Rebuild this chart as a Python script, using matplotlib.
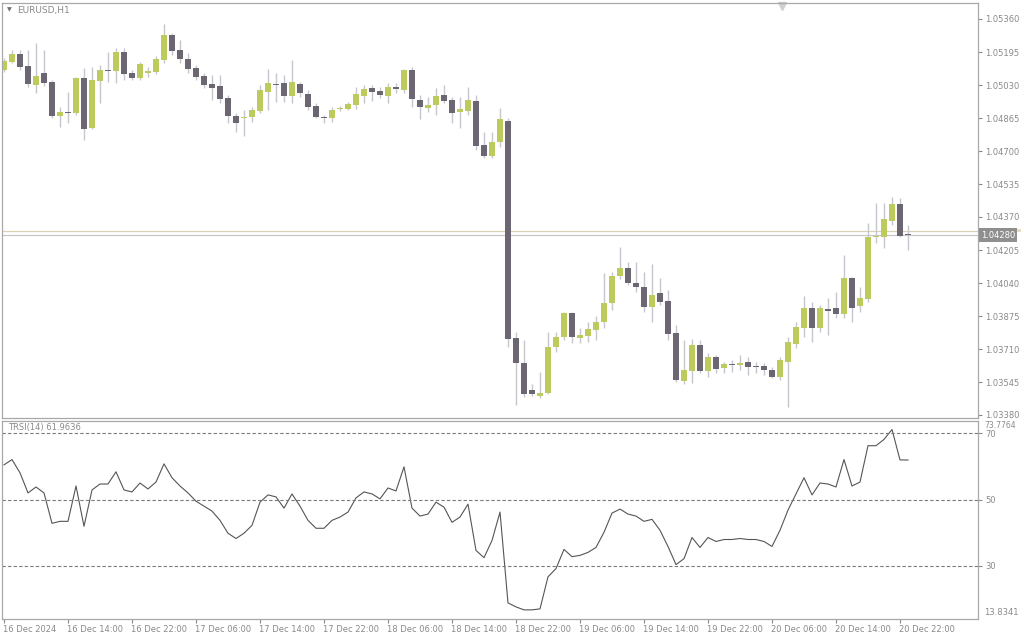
import numpy as np
import pandas as pd
import matplotlib
matplotlib.use("Agg")
import matplotlib.pyplot as plt
import matplotlib.transforms as mtransforms
from matplotlib.patches import Rectangle

# EURUSD H1 candles
opens = [1.05105, 1.05145, 1.05185, 1.05125, 1.05030, 1.05090, 1.05045, 1.04875, 1.04895, 1.04890,
         1.05065, 1.04815, 1.05050, 1.05105, 1.05100, 1.05195, 1.05090, 1.05065, 1.05090, 1.05095,
         1.05155, 1.05280, 1.05205, 1.05160, 1.05115, 1.05075, 1.05035, 1.05025, 1.04965, 1.04875,
         1.04865, 1.04870, 1.04900, 1.04995, 1.05035, 1.05040, 1.04975, 1.05035, 1.04985, 1.04925,
         1.04870, 1.04865, 1.04910, 1.04910, 1.04930, 1.04975, 1.05015, 1.05000, 1.04975, 1.05020,
         1.05005, 1.05105, 1.04955, 1.04915, 1.04930, 1.04980, 1.04955, 1.04895, 1.04900, 1.04950,
         1.04730, 1.04675, 1.04745, 1.04850, 1.03765, 1.03640, 1.03505, 1.03475, 1.03490, 1.03720,
         1.03770, 1.03890, 1.03765, 1.03775, 1.03805, 1.03845, 1.03940, 1.04075, 1.04115, 1.04040,
         1.04020, 1.03920, 1.03990, 1.03950, 1.03790, 1.03550, 1.03600, 1.03730, 1.03600, 1.03670,
         1.03615, 1.03635, 1.03630, 1.03645, 1.03625, 1.03625, 1.03605, 1.03570, 1.03645, 1.03735,
         1.03815, 1.03915, 1.03815, 1.03910, 1.03915, 1.03885, 1.04065, 1.03925, 1.03960, 1.04270,
         1.04270, 1.04350, 1.04435, 1.04285]
highs = [1.05165, 1.05205, 1.05205, 1.05205, 1.05240, 1.05205, 1.05055, 1.04920, 1.04995, 1.05070,
         1.05115, 1.05120, 1.05130, 1.05195, 1.05215, 1.05215, 1.05105, 1.05145, 1.05120, 1.05175,
         1.05335, 1.05290, 1.05255, 1.05190, 1.05130, 1.05090, 1.05080, 1.05080, 1.04980, 1.04890,
         1.04905, 1.04920, 1.05030, 1.05110, 1.05090, 1.05080, 1.05155, 1.05045, 1.05005, 1.04940,
         1.04880, 1.04920, 1.04925, 1.04945, 1.05020, 1.05030, 1.05030, 1.05020, 1.05040, 1.05040,
         1.05110, 1.05120, 1.04980, 1.04970, 1.05015, 1.05030, 1.04970, 1.04970, 1.05020, 1.04980,
         1.04795, 1.04795, 1.04915, 1.04865, 1.03795, 1.03755, 1.03535, 1.03595, 1.03795, 1.03795,
         1.03895, 1.03895, 1.03815, 1.03845, 1.03875, 1.04090, 1.04095, 1.04220, 1.04145, 1.04145,
         1.04095, 1.04135, 1.04065, 1.04005, 1.03830, 1.03755, 1.03760, 1.03755, 1.03690, 1.03680,
         1.03645, 1.03655, 1.03680, 1.03670, 1.03645, 1.03640, 1.03620, 1.03670, 1.03770, 1.03845,
         1.03975, 1.03945, 1.03930, 1.03965, 1.03995, 1.04180, 1.04070, 1.04020, 1.04340, 1.04440,
         1.04440, 1.04470, 1.04465, 1.04330]
lows = [1.05095, 1.05140, 1.05105, 1.05020, 1.04990, 1.05025, 1.04865, 1.04820, 1.04840, 1.04880,
        1.04755, 1.04810, 1.04940, 1.05045, 1.05040, 1.05055, 1.05055, 1.05055, 1.05070, 1.05085,
        1.05140, 1.05180, 1.05140, 1.05090, 1.05055, 1.05015, 1.04955, 1.04940, 1.04840, 1.04795,
        1.04775, 1.04845, 1.04890, 1.04905, 1.04945, 1.04945, 1.04940, 1.04970, 1.04905, 1.04865,
        1.04840, 1.04845, 1.04900, 1.04905, 1.04910, 1.04940, 1.04950, 1.04965, 1.04940, 1.04990,
        1.04990, 1.04920, 1.04860, 1.04895, 1.04880, 1.04940, 1.04840, 1.04815, 1.04880, 1.04705,
        1.04665, 1.04665, 1.04720, 1.03720, 1.03430, 1.03470, 1.03475, 1.03465, 1.03485, 1.03695,
        1.03755, 1.03740, 1.03740, 1.03745, 1.03755, 1.03815, 1.03905, 1.04060, 1.04030, 1.03995,
        1.03895, 1.03845, 1.03930, 1.03755, 1.03545, 1.03535, 1.03540, 1.03590, 1.03570, 1.03590,
        1.03590, 1.03595, 1.03605, 1.03580, 1.03590, 1.03580, 1.03565, 1.03555, 1.03420, 1.03715,
        1.03770, 1.03745, 1.03795, 1.03780, 1.03865, 1.03865, 1.03845, 1.03895, 1.03945, 1.04240,
        1.04215, 1.04330, 1.04270, 1.04205]
closes = [1.05150, 1.05185, 1.05120, 1.05035, 1.05075, 1.05040, 1.04875, 1.04895, 1.04890, 1.05065,
          1.04810, 1.05055, 1.05105, 1.05100, 1.05195, 1.05085, 1.05065, 1.05135, 1.05100, 1.05160,
          1.05280, 1.05200, 1.05160, 1.05110, 1.05070, 1.05030, 1.05015, 1.04960, 1.04875, 1.04840,
          1.04870, 1.04905, 1.05005, 1.05040, 1.05030, 1.04975, 1.05045, 1.04990, 1.04920, 1.04870,
          1.04865, 1.04905, 1.04915, 1.04935, 1.04985, 1.05010, 1.04995, 1.04980, 1.05020, 1.05010,
          1.05105, 1.04960, 1.04920, 1.04930, 1.04975, 1.04950, 1.04890, 1.04910, 1.04955, 1.04725,
          1.04675, 1.04745, 1.04860, 1.03760, 1.03640, 1.03485, 1.03485, 1.03490, 1.03720, 1.03770,
          1.03890, 1.03770, 1.03780, 1.03810, 1.03845, 1.03940, 1.04075, 1.04115, 1.04040, 1.04020,
          1.03920, 1.03980, 1.03945, 1.03785, 1.03555, 1.03605, 1.03730, 1.03600, 1.03670, 1.03610,
          1.03635, 1.03630, 1.03640, 1.03620, 1.03620, 1.03605, 1.03570, 1.03655, 1.03745, 1.03820,
          1.03915, 1.03815, 1.03915, 1.03900, 1.03885, 1.04065, 1.03915, 1.03965, 1.04270, 1.04275,
          1.04360, 1.04435, 1.04275, 1.04280]

# TRSI(14) indicator values
trsi = [60.5, 62.1, 58.1, 52.0, 53.8, 52.0, 42.8, 43.4, 43.4, 54.1,
        41.9, 52.9, 54.7, 54.7, 58.4, 52.9, 52.3, 55.0, 53.2, 55.3,
        60.8, 56.6, 54.1, 52.0, 49.5, 48.0, 46.5, 43.7, 39.8, 38.2,
        39.8, 42.2, 49.2, 51.4, 50.8, 47.4, 51.7, 48.0, 43.7, 41.3,
        41.3, 43.7, 44.7, 46.2, 50.5, 52.3, 51.7, 50.2, 53.5, 52.6,
        59.9, 47.4, 45.0, 45.6, 49.2, 47.7, 43.1, 44.7, 48.6, 34.6,
        32.4, 37.6, 46.2, 18.7, 17.5, 16.6, 16.6, 16.9, 26.6, 29.1,
        34.9, 32.7, 33.1, 34.0, 35.5, 40.1, 45.9, 47.1, 45.6, 45.0,
        43.4, 44.0, 40.7, 35.8, 30.3, 32.1, 38.5, 35.5, 38.5, 37.3,
        37.9, 37.9, 38.2, 37.9, 37.9, 37.3, 35.8, 40.7, 46.8, 51.7,
        56.6, 51.4, 55.0, 54.7, 53.8, 62.1, 54.1, 55.3, 66.3, 66.3,
        68.2, 71.2, 62.0, 61.9636]

price_ticks = [1.05360, 1.05195, 1.05030, 1.04865, 1.04700, 1.04535, 1.04370,
               1.04205, 1.04040, 1.03875, 1.03710, 1.03545, 1.03380]
rsi_levels = [70, 50, 30]
rsi_min, rsi_max = 13.8341, 73.7764
bid, ask = 1.04280, 1.04298

times = pd.date_range("2024-12-16 06:00", periods=len(closes), freq="h")

UP = "#bccb5c"
DOWN = "#6c6672"
WICK = "#c6c6ce"
GREY = "#8a8a8a"
FRAME = "#a8a8a8"

W, H = 1024, 640
fig = plt.figure(figsize=(W / 100, H / 100), dpi=100)
fig.patch.set_facecolor("white")

def px_box(left, top, right, bottom):
    return [left / W, 1 - bottom / H, (right - left) / W, (bottom - top) / H]

ax = fig.add_axes(px_box(2, 3, 978, 418))
ax2 = fig.add_axes(px_box(2, 421, 978, 619), sharex=ax)

x = np.arange(len(closes))
o = np.array(opens)
c = np.array(closes)
up = c > o
body_lo = np.minimum(o, c)
body_h = np.maximum(np.abs(c - o), 0.00004)

ax.vlines(x, lows, highs, color=WICK, lw=1.0, zorder=1)
ax.bar(x, body_h, bottom=body_lo, width=0.78,
       color=np.where(up, UP, DOWN), linewidth=0, zorder=2)

# bid / ask lines
ax.axhline(ask, color="#d9d2b4", lw=0.9, zorder=0)
ax.axhline(bid, color="#c8c8c8", lw=0.9, zorder=0)

ax.set_xlim(-0.25, 121.75)
ax.set_ylim(1.03365, 1.05440)
ax.yaxis.tick_right()
ax.set_yticks(price_ticks)
ax.set_yticklabels([f"{p:.5f}" for p in price_ticks])
ax.tick_params(axis="y", colors=GREY, labelsize=6, length=3, width=0.8, pad=2)
ax.tick_params(axis="x", bottom=False, labelbottom=False)
for s in ax.spines.values():
    s.set_color(FRAME)
    s.set_linewidth(0.9)

# current price box, with the ask label strip peeking above it
trans = mtransforms.blended_transform_factory(ax.transAxes, ax.transData)
ax.add_patch(Rectangle((1.001, ask - 0.00002), 0.043, 0.00012, transform=trans,
                       facecolor="#e6dfc2", edgecolor="none", clip_on=False, zorder=3))
ax.text(1.003, bid, "1.04280", transform=trans, ha="left", va="center",
        fontsize=6, color="white", clip_on=False, zorder=4,
        bbox=dict(boxstyle="square,pad=0.25", facecolor="#8f8f8f", edgecolor="none"))

# chart shift marker
trans_top = mtransforms.blended_transform_factory(ax.transData, ax.transAxes)
ax.plot([97.25], [0.992], marker="v", markersize=6, color="#cfcfcf",
        transform=trans_top, clip_on=False)

fig.text(9 / W, 1 - 10 / H, "\u25BC", fontsize=4.5, color="#707070", ha="center", va="center")
fig.text(17 / W, 1 - 10 / H, "EURUSD,H1", fontsize=6.5, color=GREY, ha="left", va="center")

# indicator window
ax2.plot(x, trsi, color="#555555", lw=0.8)
for lvl in rsi_levels:
    ax2.axhline(lvl, color="#7a7a7a", lw=0.8, ls=(0, (3, 2)))
ax2.set_ylim(rsi_min, rsi_max)
ax2.yaxis.tick_right()
ax2.set_yticks(rsi_levels)
ax2.set_yticklabels([str(v) for v in rsi_levels])
ax2.tick_params(axis="y", colors=GREY, labelsize=6, length=3, width=0.8, pad=2)
trans2 = mtransforms.blended_transform_factory(ax2.transAxes, ax2.transData)
ax2.text(1.006, rsi_max - 0.1, f"{rsi_max:.4f}", transform=trans2, ha="left", va="top",
         fontsize=5.5, color=GREY, clip_on=False)
ax2.text(1.006, rsi_min + 0.6, f"{rsi_min:.4f}", transform=trans2, ha="left", va="bottom",
         fontsize=6, color=GREY, clip_on=False)
ax2.text(0.006, 0.99, f"TRSI(14) {trsi[-1]:.4f}", transform=ax2.transAxes,
         ha="left", va="top", fontsize=6, color=GREY)
for s in ax2.spines.values():
    s.set_color(FRAME)
    s.set_linewidth(0.9)

tick_pos = list(range(0, len(closes), 8))
tick_lab = ["16 Dec 2024" if i == 0 else times[i].strftime("%d %b %H:%M") for i in tick_pos]
ax2.set_xticks(tick_pos)
ax2.set_xticklabels(tick_lab, ha="left")
ax2.tick_params(axis="x", colors=GREY, labelsize=6, length=3, width=0.8, pad=1)
for lab in ax2.get_xticklabels():
    lab.set_transform(lab.get_transform() + mtransforms.ScaledTranslation(-1 / 100, 0, fig.dpi_scale_trans))

fig.savefig("out.png", dpi=100)
